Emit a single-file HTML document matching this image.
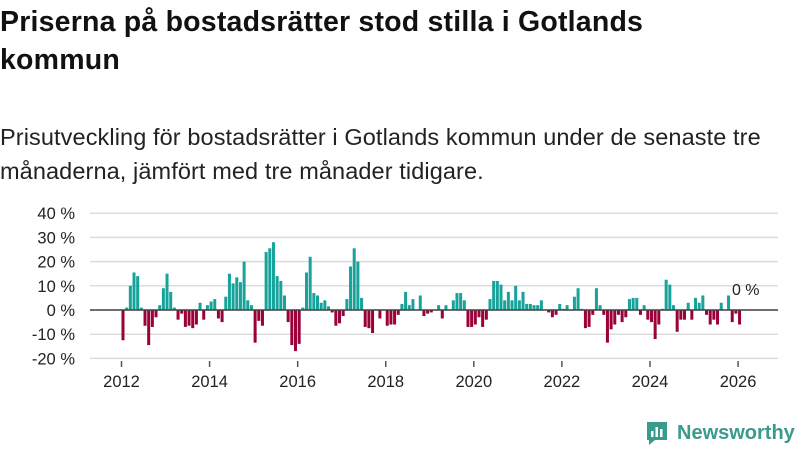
<!DOCTYPE html>
<html><head><meta charset="utf-8"><style>
body{margin:0;background:#fff;width:800px;height:450px;overflow:hidden;font-family:"Liberation Sans",sans-serif;color:#111}
h1{position:absolute;left:0;top:3px;margin:0;font-size:28.5px;line-height:38px;font-weight:bold;width:745px;letter-spacing:0.2px}
.sub{position:absolute;left:0;top:120px;margin:0;font-size:23.5px;line-height:34px;width:800px;color:#222;letter-spacing:0.1px}
</style></head><body>
<h1>Priserna på bostadsrätter stod stilla i Gotlands kommun</h1>
<p class="sub">Prisutveckling för bostadsrätter i Gotlands kommun under de senaste tre månaderna, jämfört med tre månader tidigare.</p>
<svg id="chart" width="800" height="450" style="position:absolute;left:0;top:0" xmlns="http://www.w3.org/2000/svg"></svg>
<script>
const values=[-12.5,1,10,15.5,14,1,-6.5,-14.5,-7,-3,2,9,15,7.5,1,-4,-1.5,-7,-6.5,-7.5,-6,3,-4,2,3.5,4.5,-3.5,-5,5.5,15,11,13.5,11.5,20,4,2,-13.5,-4.5,-6.5,24,25.5,28,14,12,6,-5,-14.5,-17,-14,1,15.5,22,7,6,3,4,1.5,
-1,-6.5,-5.5,-2.5,4.5,18,25.5,20,5,-7,-7.5,-9.5,0,-3.5,0,-6.5,-6,-6,-2,2.5,7.5,2,4.5,0,6,-2.5,-1.5,-1,0,2,-3.5,2,0,4,7,7,4,-7,-7,-6,-3,-7,-4,4.5,12,12,10.5,4,7.5,4,10,4,7.5,2.5,2.5,2,2,4,0,-1,-3,-2,
2.5,0.5,2,0,5.5,9,0.5,-7.5,-7,-2,9,2,-2,-13.5,-8,-6,-2,-5,-3,4.5,5,5,-2,2,-4,-5,-12,-6,0.5,12.5,10.5,2,-9,-4,-4,3,-4,5,3,6,-2,-6,-4,-6,3,0,6,-5,-1.5,-6,0];
const yTicks=[40,30,20,10,0,-10,-20];
const xYears=[2012,2014,2016,2018,2020,2022,2024,2026];
const startYear=2012;
const lastLabel="0 %";
const svg=document.getElementById('chart');
const NS='http://www.w3.org/2000/svg';
const X0=121.5,PX_YEAR=44.04,Y0=310,PX_PCT=2.42;
function xm(i){return X0+i*PX_YEAR/12;}
function xy(yr){return X0+(yr-startYear)*PX_YEAR;}
function yv(v){return Y0-v*PX_PCT;}
function mk(t,a){const e=document.createElementNS(NS,t);for(const k in a)e.setAttribute(k,a[k]);svg.appendChild(e);return e;}
yTicks.forEach(t=>{
  const g=mk('line',{x1:90,x2:778,y1:yv(t),y2:yv(t),stroke:'#dcdcdc','stroke-width':1.5});
  
  
  const l=mk('text',{x:75,y:yv(t)+6,'text-anchor':'end','font-size':16.5,fill:'#222','font-family':'Liberation Sans, sans-serif'});
  l.textContent=t+' %';
  
  
});
values.forEach((v,i)=>{
  const y=yv(Math.max(v,0)),h=Math.abs(v)*PX_PCT;
  const r=mk('rect',{x:xm(i),y:y,width:3,height:h,fill:v>=0?'#17a39a':'#9b0039'});
  
  
});
const z=mk('line',{x1:90,x2:778,y1:Y0,y2:Y0,stroke:'#444','stroke-width':1.5});


xYears.forEach(yr=>{
  const x=xy(yr);
  const t=mk('line',{x1:x,x2:x,y1:361,y2:367,stroke:'#555','stroke-width':1.5});
  
  
  const l=mk('text',{x:x,y:387,'text-anchor':'middle','font-size':16.5,fill:'#222','font-family':'Liberation Sans, sans-serif'});
  l.textContent=yr;
  
  
});
const lab=mk('text',{x:xm(values.length-1)+4,y:yv(values[values.length-1])-15,'text-anchor':'middle','font-size':16,fill:'#222','font-family':'Liberation Sans, sans-serif'});
lab.textContent=lastLabel;


</script>
<div style="position:absolute;left:645px;top:420px;display:flex;align-items:center">
<svg width="24" height="26" viewBox="0 0 24 26"><path d="M2 2h20v18H10l-6 5v-5H2z" fill="#3a9a8c"/><rect x="6" y="11" width="2.5" height="6" fill="#fff"/><rect x="10.5" y="7" width="2.5" height="10" fill="#fff"/><rect x="15" y="9" width="2.5" height="8" fill="#fff"/></svg>
<span style="margin-left:8px;font-size:20px;font-weight:bold;color:#3a9a8c">Newsworthy</span>
</div>
</body></html>
